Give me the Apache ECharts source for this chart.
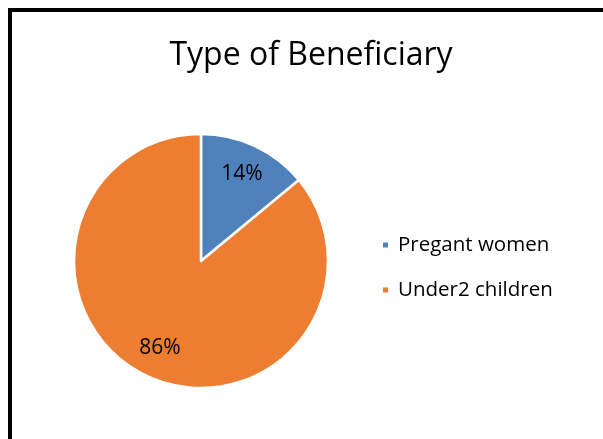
<!DOCTYPE html>
<html>
<head>
<meta charset="utf-8">
<script src="https://cdn.jsdelivr.net/npm/echarts@6/dist/echarts.min.js"></script>
<style>
  html, body { margin: 0; padding: 0; background: #fff; }
  #chart { width: 603px; height: 439px; }
</style>
</head>
<body>
<div id="chart"></div>
<script>
// Beneficiary groups and their shares (%)
const categories = ['Pregant women', 'Under2 children'];
const shares = [14, 86];
const colors = ['#4f81bd', '#ed7d31'];

const pieData = categories.map((name, i) => ({ name, value: shares[i], itemStyle: { color: colors[i] } }));

const center = [201, 261];
const radius = 127;
const font = 'Open Sans, sans-serif';

const chart = echarts.init(document.getElementById('chart'));
chart.setOption({
  animation: false,
  backgroundColor: '#fff',
  title: {
    text: 'Type of Beneficiary',
    left: 306,
    top: 35,
    textAlign: 'center',
    textStyle: { fontFamily: font, fontSize: 32, fontWeight: 'normal', color: '#000' }
  },
  legend: {
    orient: 'vertical',
    left: 376,
    top: 228,
    icon: 'rect',
    itemWidth: 7,
    itemHeight: 7,
    itemGap: 21,
    selectedMode: false,
    data: categories,
    textStyle: { fontFamily: font, fontSize: 20.5, color: '#000', lineHeight: 24, padding: [0, 0, 0, 4] }
  },
  graphic: [
    // frame: top and left edges
    { type: 'rect', shape: { x: 8, y: 8, width: 595, height: 4 }, style: { fill: '#000' } },
    { type: 'rect', shape: { x: 8, y: 8, width: 4, height: 431 }, style: { fill: '#000' } }
  ],
  series: [
    {
      type: 'pie',
      center: center,
      radius: [0, radius],
      startAngle: 90,
      clockwise: true,
      itemStyle: { borderColor: '#fff', borderWidth: 2.5 },
      label: { show: false },
      labelLine: { show: false },
      emphasis: { disabled: true },
      data: pieData
    },
    {
      // transparent ring that carries the percentage labels at ~3/4 radius
      type: 'pie',
      center: center,
      radius: [radius * 0.47, radius],
      startAngle: 90,
      clockwise: true,
      silent: true,
      itemStyle: { color: 'rgba(0,0,0,0)', borderWidth: 0 },
      label: {
        show: true,
        position: 'inside',
        formatter: '{c}%',
        fontFamily: font,
        fontSize: 21,
        color: '#000'
      },
      labelLine: { show: false },
      emphasis: { disabled: true },
      data: categories.map((name, i) => ({ name, value: shares[i] }))
    }
  ]
});
</script>
</body>
</html>
